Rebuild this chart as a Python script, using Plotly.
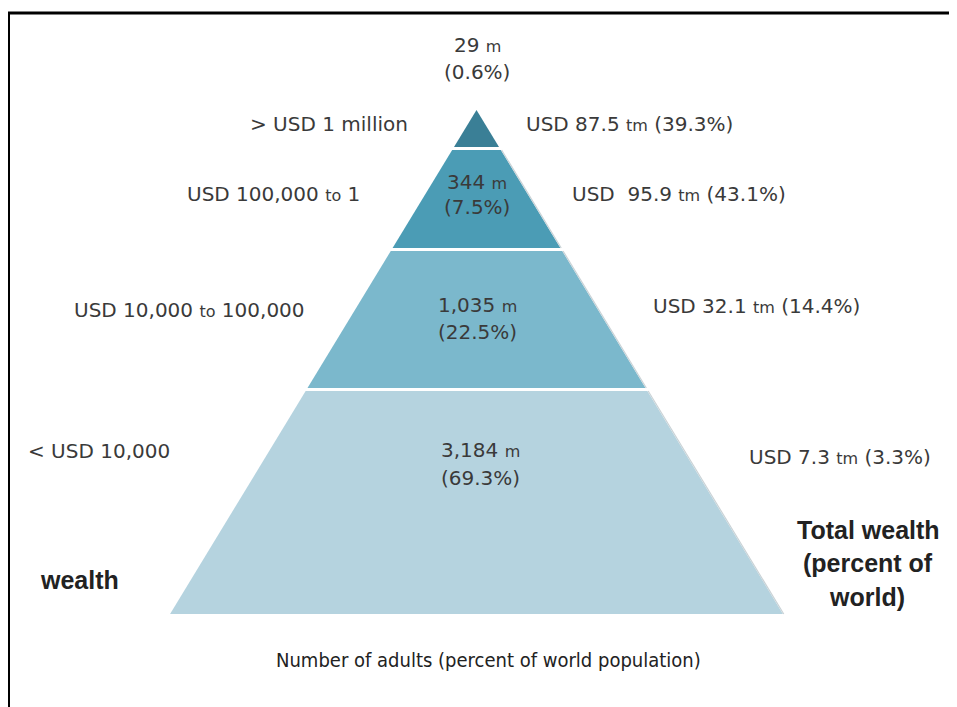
import plotly.graph_objects as go

# ---- data ----
tiers = ["> USD 1 million", "USD 100,000 to 1", "USD 10,000 to 100,000", "< USD 10,000"]
adults_m = ["29", "344", "1,035", "3,184"]
adults_pct = [0.6, 7.5, 22.5, 69.3]
wealth_tn = [87.5, 95.9, 32.1, 7.3]
wealth_pct = [39.3, 43.1, 14.4, 3.3]
tier_colors = ["#3a7f96", "#4b9cb5", "#7bb8cc", "#b5d3df"]

# ---- layout (screen-pixel space; page body has an 8px margin) ----
W, H = 957, 707
OFF = 8
APEX_X, APEX_Y = 476.5, 110
SLOPE = 0.608  # half-width per px of height
tier_top = [APEX_Y, 150, 251, 391]
tier_bot = [147, 248, 388, 614]

TXT = "#3a3a3a"
FONT = "DejaVu Sans, Verdana, sans-serif"

fig = go.Figure()

def hw(y):
    return (y - APEX_Y) * SLOPE

for i in range(4):
    t, b = tier_top[i], tier_bot[i]
    xs = [APEX_X - hw(t), APEX_X + hw(t), APEX_X + hw(b), APEX_X - hw(b), APEX_X - hw(t)]
    ys = [t, t, b, b, t]
    fig.add_trace(go.Scatter(x=xs, y=ys, fill="toself", fillcolor=tier_colors[i],
                             mode="lines", line=dict(width=0, color=tier_colors[i]),
                             hoverinfo="skip", showlegend=False))

# subtle shadow along the right edge of the lower tiers
for i in range(1, 4):
    t, b = tier_top[i], tier_bot[i]
    fig.add_trace(go.Scatter(x=[APEX_X + hw(t) + 0.8, APEX_X + hw(b) + 0.8], y=[t, b],
                             mode="lines", line=dict(width=1.2, color="#c9d2d6"),
                             hoverinfo="skip", showlegend=False))

ann = []
def add(text, x, y, xa="center", size=20, font=FONT, color=TXT):
    ann.append(dict(text=text, x=x, y=y, xref="x", yref="y", xanchor=xa, yanchor="middle",
                    showarrow=False, font=dict(family=font, size=size, color=color)))

small = lambda s: '<span style="font-size:16px">%s</span>' % s

# population labels (inside / above tiers)
pop_pos = [(477, 45, 72), (477, 182, 207), (477, 305, 332), (480, 450, 478)]
for i, (px, y1, y2) in enumerate(pop_pos):
    add(adults_m[i] + " " + small("m"), px, y1)
    add("(%.1f%%)" % adults_pct[i], px, y2)

# left tier labels (right-anchored)
left_pos = [(410, 124), (362, 194), (307, 310), (172, 451)]
for i, (lx, ly) in enumerate(left_pos):
    txt = tiers[i].replace(" to ", " " + small("to") + " ")
    add(txt, lx, ly, xa="right")

# right wealth labels (left-anchored)
right_pos = [(524, 124), (570, 194), (651, 306), (747, 457)]
for i, (rx, ry) in enumerate(right_pos):
    sp = "&nbsp; " if i == 1 else " "
    add("USD" + sp + "%.1f " % wealth_tn[i] + small("tm") + " (%.1f%%)" % wealth_pct[i], rx, ry, xa="left")

BOLD = "Liberation Sans, Arial, sans-serif"
add("<b>wealth</b>", 79, 580, size=25, font=BOLD, color="#222")
add("<b>Total wealth</b>", 868, 530, size=25, font=BOLD, color="#222")
add("<b>(percent of</b>", 868, 563, size=25, font=BOLD, color="#222")
add("<b>world)</b>", 867, 597, size=25, font=BOLD, color="#222")
add("Number of adults (percent of world population)", 488, 660, size=20,
    font="Liberation Sans Narrow, DejaVu Sans Condensed, Arial Narrow, sans-serif", color="#222")

fig.update_layout(
    width=W, height=H, margin=dict(l=0, r=0, t=0, b=0),
    paper_bgcolor="white", plot_bgcolor="white",
    xaxis=dict(range=[OFF, W + OFF], visible=False, fixedrange=True),
    yaxis=dict(range=[H + OFF, OFF], visible=False, fixedrange=True),
    annotations=ann,
    shapes=[dict(type="path", path="M 8.5 %d L 8.5 13 L %d 13" % (H + 20, W + 20), xref="x", yref="y",
                 line=dict(color="black", width=3))],
    showlegend=False,
)

fig.write_html("out.html")
